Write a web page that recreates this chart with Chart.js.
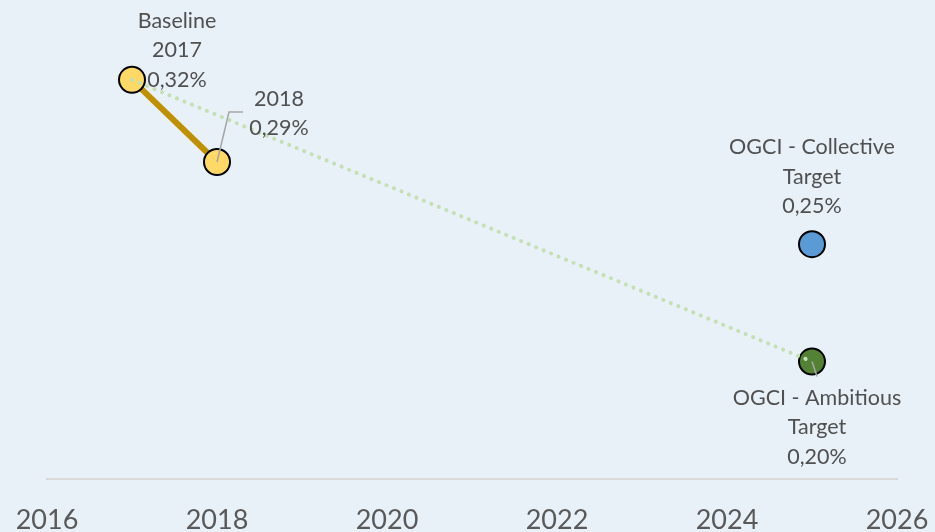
<!DOCTYPE html>
<html>
<head>
<meta charset="utf-8">
<script src="https://cdn.jsdelivr.net/npm/chart.js@4/dist/chart.umd.min.js"></script>
<style>
  html, body { margin: 0; padding: 0; background: #E8F0F8; }
  .wrap { width: 935px; height: 532px; position: relative; }
</style>
</head>
<body>
<div class="wrap"><canvas id="chart"></canvas></div>
<script>
// Data
const actualYears = [2017, 2018];
const actualValues = [0.32, 0.285];
const trendYears = [2017, 2025];
const trendValues = [0.32, 0.20];
const collectiveYear = [2025];
const collectiveValue = [0.25];
const ambitiousYear = [2025];
const ambitiousValue = [0.20];
const xTicks = [2016, 2018, 2020, 2022, 2024, 2026];

// Label texts shown next to the points
const baselineLabel = ['Baseline', '2017', '0,32%'];
const label2018 = ['2018', '0,29%'];
const collectiveLabel = ['OGCI - Collective', 'Target', '0,25%'];
const ambitiousLabel = ['OGCI - Ambitious', 'Target', '0,20%'];

const toPoints = (xs, ys) => xs.map((x, i) => ({ x: x, y: ys[i] }));

const textColor = '#505050';

// Draws the multi-line data labels (and leader lines) relative to each point
const labelPlugin = {
  id: 'pointLabels',
  afterDatasetsDraw(chart) {
    const ctx = chart.ctx;
    const pt = (ds, i) => chart.getDatasetMeta(ds).data[i];
    ctx.save();
    ctx.font = '21.5px Lato';
    ctx.fillStyle = textColor;
    ctx.textAlign = 'center';
    ctx.textBaseline = 'middle';

    function lines(arr, cx, y0) {
      arr.forEach((t, i) => ctx.fillText(t, cx, y0 + i * 29.5));
    }
    function leader(pts) {
      ctx.beginPath();
      ctx.strokeStyle = '#A6A6A6';
      ctx.lineWidth = 1.5;
      ctx.moveTo(pts[0][0], pts[0][1]);
      pts.slice(1).forEach(p => ctx.lineTo(p[0], p[1]));
      ctx.stroke();
    }

    const p17 = pt(1, 0), p18 = pt(1, 1), pc = pt(2, 0), pa = pt(3, 0);
    lines(baselineLabel, p17.x + 45, p17.y - 59);

    leader([[p18.x, p18.y], [p18.x + 12, p18.y - 50], [p18.x + 26, p18.y - 50]]);
    lines(label2018, p18.x + 62, p18.y - 63);

    lines(collectiveLabel, pc.x, pc.y - 97);

    leader([[pa.x, pa.y], [pa.x + 5, pa.y + 15]]);
    lines(ambitiousLabel, pa.x + 5, pa.y + 36);
    ctx.restore();
  }
};

new Chart(document.getElementById('chart'), {
  type: 'line',
  data: {
    datasets: [
      {
        // dotted trend line, drawn on top
        data: toPoints(trendYears, trendValues),
        borderColor: '#C5E0B4',
        borderWidth: 4,
        borderDash: [0.1, 8],
        borderCapStyle: 'round',
        pointRadius: 0,
        fill: false
      },
      {
        data: toPoints(actualYears, actualValues),
        borderColor: '#BF9000',
        borderWidth: 6,
        pointRadius: 13,
        pointBackgroundColor: '#FFD966',
        pointBorderColor: '#000000',
        pointBorderWidth: 2,
        fill: false
      },
      {
        data: toPoints(collectiveYear, collectiveValue),
        showLine: false,
        pointRadius: 13,
        pointBackgroundColor: '#5B9BD5',
        pointBorderColor: '#000000',
        pointBorderWidth: 2
      },
      {
        data: toPoints(ambitiousYear, ambitiousValue),
        showLine: false,
        pointRadius: 13,
        pointBackgroundColor: '#548235',
        pointBorderColor: '#000000',
        pointBorderWidth: 2
      }
    ]
  },
  options: {
    responsive: true,
    maintainAspectRatio: false,
    animation: false,
    layout: { padding: { left: 47, right: 38, top: 8, bottom: 0 } },
    plugins: {
      legend: { display: false },
      tooltip: { enabled: false }
    },
    scales: {
      x: {
        type: 'linear',
        min: 2016,
        max: 2026,
        afterBuildTicks: axis => { axis.ticks = xTicks.map(v => ({ value: v })); },
        afterFit: axis => {
          axis.height = 53;
          axis.paddingLeft = 0;
          axis.paddingRight = 0;
        },
        grid: { display: false },
        border: { display: true, color: '#D9D9D9', width: 2 },
        ticks: {
          color: '#595959',
          font: { family: 'Lato', size: 27 },
          padding: 17,
          maxRotation: 0,
          callback: v => String(v)
        }
      },
      y: {
        // hidden value axis; chart area top sits at 14px, so the top bound is trimmed to match
        display: false,
        min: 0.15,
        max: 0.3476
      }
    }
  },
  plugins: [labelPlugin]
});
</script>
</body>
</html>
